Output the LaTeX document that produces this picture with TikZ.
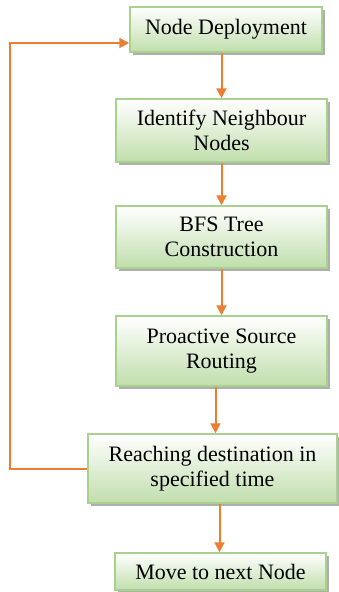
\documentclass[tikz,border=0pt]{standalone}
\usepackage{fontspec}
\setmainfont{Liberation Serif}
\usetikzlibrary{arrows.meta}
\usetikzlibrary{shadows}
\definecolor{boxgreen}{RGB}{192,222,172}
\definecolor{boxline}{RGB}{169,209,142}
\definecolor{floworange}{RGB}{237,125,49}

\begin{document}
\begin{tikzpicture}[x=1pt,y=-1pt]
  \tikzset{stage/.style = {shape=rectangle,draw=boxline,line width=1.5pt,
      top color=white,bottom color=boxgreen,align=center,inner sep=2pt,
      font=\fontsize{22}{25}\selectfont,
      drop shadow={shadow xshift=2.5pt,shadow yshift=-2.5pt,fill=black!45,opacity=.7}}}
  \tikzset{flow/.style = {draw=floworange,line width=2pt,-{Triangle[length=10pt,width=10pt]}}}

  \useasboundingbox (0,0) rectangle (338,592);

	\node[stage,minimum width=192pt,minimum height=45pt] (ND) at (226,29.5) {Node Deployment};
	\node[stage,minimum width=211pt,minimum height=63pt] (IN) at (221.5,130.5) {Identify Neighbour\\Nodes};
	\node[stage,minimum width=211pt,minimum height=62pt] (BT) at (221.5,237) {BFS Tree\\Construction};
	\node[stage,minimum width=211pt,minimum height=70pt] (PS) at (221.5,351) {Proactive Source\\Routing};
	\node[stage,minimum width=249pt,minimum height=69pt] (RD) at (212.5,468.5) {Reaching destination in\\specified time};
	\node[stage,minimum width=211pt,minimum height=37pt] (MN) at (220.5,571.5) {Move to next Node};

	\draw[flow] (IN.north |- ND.south) -- (IN.north);
       \foreach \from/\to in {IN/BT, BT/PS}
    \draw[flow] (\from) -- (\to);
	\draw[flow] ([xshift=3pt]RD.north |- PS.south) -- ([xshift=3pt]RD.north);
	\draw[flow] ([xshift=-1pt]MN.north |- RD.south) -- ([xshift=-1pt]MN.north);
	\draw[flow] (RD.west) -- ++(-77,0) |- ([yshift=-13.5pt]ND.west);
\end{tikzpicture}
\end{document}
